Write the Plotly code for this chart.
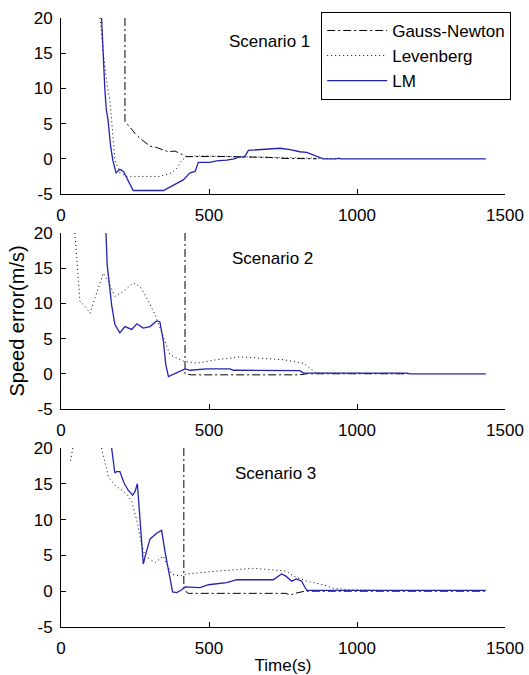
import plotly.graph_objects as go
from plotly.subplots import make_subplots

# ---- data ----
# Scenario 1
lm1_t = [137, 142, 148, 153, 159, 167, 175, 186, 199, 211, 244, 346, 380, 413, 436, 453, 464, 503, 526, 560, 585, 605, 616, 625, 633, 672, 740, 774, 807, 830, 864, 886, 930, 937, 945, 1435]
lm1_v = [20, 15, 10, 7, 5.5, 2, -0.2, -2, -1.5, -1.8, -4.5, -4.5, -3.7, -3.0, -2.0, -1.8, -0.5, -0.5, -0.3, -0.2, 0, 0.3, 0.2, 0.6, 1.2, 1.3, 1.5, 1.3, 1.0, 0.9, 0.3, 0, 0, 0.1, 0, 0]
lev1_t = [132, 140, 148, 158, 166, 171, 182, 199, 222, 334, 374, 391, 408, 425, 460, 600, 800, 950]
lev1_v = [20, 16.5, 13, 10, 8, 5.5, -0.2, -2.0, -2.5, -2.5, -2.0, -1.35, -0.2, 0.3, 0.4, 0.3, 0.1, 0]
gn1_t = [216, 216, 233, 250, 267, 301, 323, 363, 385, 402, 425, 515, 639, 700, 760, 864]
gn1_v = [20, 5.3, 4.5, 3.6, 2.9, 1.8, 1.6, 1.0, 1.1, 0.8, 0.3, 0.35, 0.3, 0.2, 0.05, 0]

# Scenario 2
lm2_t = [152, 156, 171, 182, 199, 216, 239, 256, 278, 301, 323, 334, 346, 354, 363, 380, 402, 419, 436, 492, 571, 582, 807, 819, 1168, 1179, 1435]
lm2_v = [20, 15.5, 9.8, 7.0, 5.8, 6.7, 6.3, 7.1, 6.5, 6.7, 7.5, 7.4, 4.6, 1.3, -0.4, -0.1, 0.35, 0.7, 0.5, 0.7, 0.7, 0.5, 0.45, 0.1, 0.1, 0, 0]
lev2_t = [47, 55, 64, 81, 98, 115, 132, 143, 160, 182, 211, 244, 267, 289, 318, 346, 368, 413, 458, 526, 605, 751, 819, 847, 864, 1170]
lev2_v = [20, 15.5, 10.3, 9.6, 8.6, 10.8, 13.1, 14.3, 13.1, 11.0, 11.7, 12.9, 12.4, 10.8, 8.4, 5.1, 2.7, 1.8, 1.5, 2.0, 2.4, 2.0, 1.5, 0.6, 0.1, 0]
gn2_t = [419, 419, 440, 807, 830, 1168]
gn2_v = [20, 0, -0.15, -0.15, 0, 0]

# Scenario 3
lm3_t = [171, 177, 182, 188, 199, 213, 227, 242, 250, 258, 264, 269, 278, 289, 301, 323, 340, 351, 363, 377, 391, 408, 419, 447, 470, 498, 560, 594, 717, 745, 760, 779, 796, 813, 830, 1435]
lm3_v = [20, 17.9, 16.5, 16.7, 16.7, 15.1, 14.1, 13.4, 13.9, 15.0, 11.8, 8.0, 3.8, 5.6, 7.3, 8.1, 8.5, 5.6, 2.8, -0.1, -0.2, 0.2, 0.6, 0.6, 0.5, 0.9, 1.2, 1.6, 1.6, 2.4, 2.1, 1.4, 1.7, 1.4, 0.1, 0.1]
lev3_t = [32, 40, None, 137, 149, 160, 182, 222, 239, 256, 272, 284, 318, 346, 357, 374, 402, 425, 526, 650, 762, 785, 830, 886, 920, 976, 1100]
lev3_v = [18.2, 20, None, 20, 17.9, 16.0, 14.8, 13.6, 12.5, 9.9, 6.6, 4.9, 4.0, 4.9, 3.8, 2.4, 2.1, 2.4, 2.8, 3.2, 2.8, 2.1, 1.4, 0.9, 0.4, 0.2, 0.1]
gn3_t = [415, 415, 430, 760, 774, 790, 824, 1435]
gn3_v = [20, 0.2, -0.3, -0.3, -0.55, -0.3, 0, 0]

scen_labels = ["Scenario 1", "Scenario 2", "Scenario 3"]
series_names = ["Gauss-Newton", "Levenberg", "LM"]
x_ticks = [0, 500, 1000, 1500]
x_ticktext = ["0", "500", "1000", "1500"]
y_ticks = [-5, 0, 5, 10, 15, 20]
y_ticktext = ["-5", "0", "5", "10", "15", "20"]

data = [
    (gn1_t, gn1_v, lev1_t, lev1_v, lm1_t, lm1_v),
    (gn2_t, gn2_v, lev2_t, lev2_v, lm2_t, lm2_v),
    (gn3_t, gn3_v, lev3_t, lev3_v, lm3_t, lm3_v),
]

FONT = "Liberation Sans, Arial, sans-serif"
BLUE = "rgb(35,35,175)"

fig = make_subplots(rows=3, cols=1)

for i, (gt, gv, lt, lv, mt, mv) in enumerate(data):
    r = i + 1
    fig.add_trace(go.Scatter(x=gt, y=gv, mode="lines", name=series_names[0],
                             line=dict(color="black", width=1, dash="8px,3px,2px,3px"),
                             showlegend=(i == 0)), row=r, col=1)
    fig.add_trace(go.Scatter(x=lt, y=lv, mode="lines", name=series_names[1],
                             line=dict(color="black", width=1, dash="1px,3px"),
                             connectgaps=False, showlegend=(i == 0)), row=r, col=1)
    fig.add_trace(go.Scatter(x=mt, y=mv, mode="lines", name=series_names[2],
                             line=dict(color=BLUE, width=1.3),
                             showlegend=(i == 0)), row=r, col=1)

domains = [[0.711, 1.0], [0.358, 0.647], [0.0, 0.294]]
ann_pos = [(703, 16.6), (713, 16.4), (723, 16.4)]

axis_common = dict(showline=True, linecolor="black", linewidth=1, mirror=False,
                   ticks="inside", ticklen=5, tickcolor="black", showgrid=False,
                   zeroline=False, automargin=False,
                   tickfont=dict(family=FONT, size=17, color="black"))

for i in range(3):
    xn = "xaxis" if i == 0 else f"xaxis{i+1}"
    yn = "yaxis" if i == 0 else f"yaxis{i+1}"
    fig.layout[xn].update(domain=[0, 1], range=[0, 1500], tickvals=x_ticks,
                          ticktext=x_ticktext, ticklabelstandoff=6, **axis_common)
    fig.layout[yn].update(domain=domains[i], range=[-5, 20], tickvals=y_ticks,
                          ticktext=y_ticktext, ticklabelstandoff=4, **axis_common)
    fig.add_annotation(x=ann_pos[i][0], y=ann_pos[i][1], xref=f"x{'' if i == 0 else i+1}",
                       yref=f"y{'' if i == 0 else i+1}", text=scen_labels[i],
                       showarrow=False, font=dict(family=FONT, size=17, color="black"))

fig.layout.yaxis2.title = dict(text="Speed error(m/s)", font=dict(family=FONT, size=20, color="black"), standoff=3)
fig.layout.xaxis3.title = dict(text="Time(s)", font=dict(family=FONT, size=17, color="black"), standoff=15)

fig.update_layout(
    width=529, height=675,
    margin=dict(l=61, r=24, t=18, b=48),
    paper_bgcolor="white", plot_bgcolor="white",
    font=dict(family=FONT, size=17, color="black"),
    legend=dict(x=0.586, y=1.01, xanchor="left", yanchor="top",
                bgcolor="white", bordercolor="black", borderwidth=1,
                itemwidth=60, font=dict(family=FONT, size=17, color="black")),
)

fig.write_html("out.html", config={"displayModeBar": False},
               post_script="document.body.style.margin='0';document.body.style.overflow='hidden';")
